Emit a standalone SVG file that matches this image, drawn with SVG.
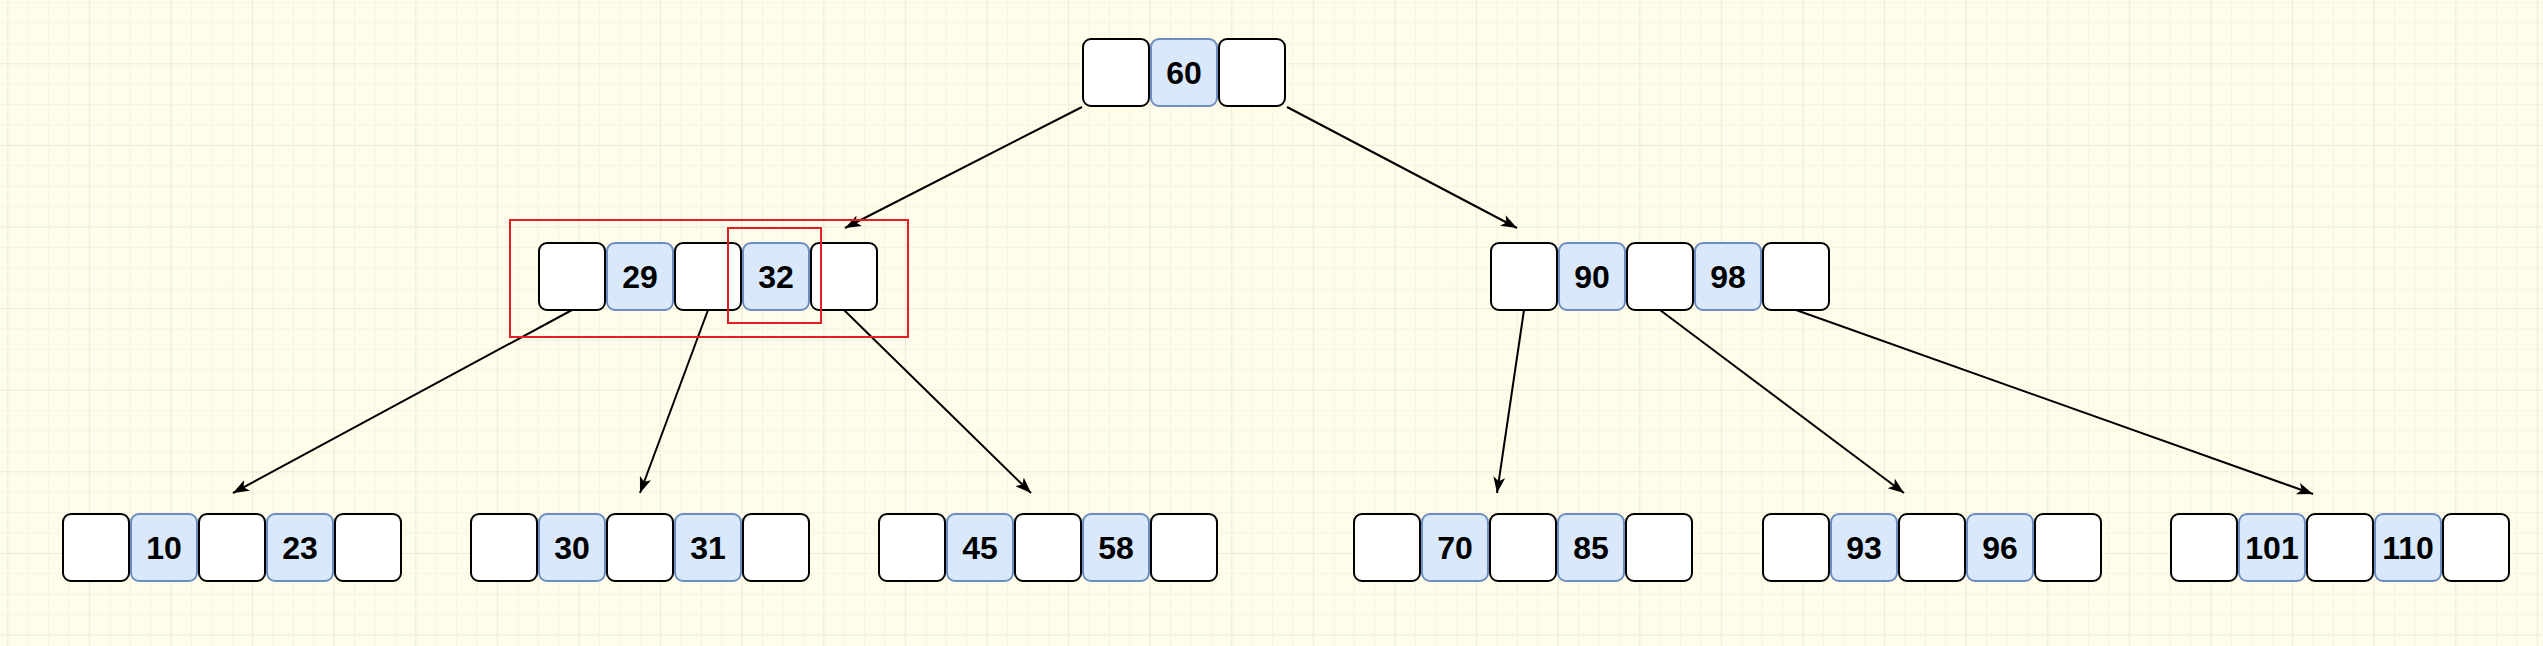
<svg xmlns="http://www.w3.org/2000/svg" width="2543" height="646" viewBox="0 0 2543 646">
<style>
.p{fill:#ffffff;stroke:#000000;stroke-width:2}
.k{fill:#dae8fc;stroke:#6c8ebf;stroke-width:2}
.t{font-family:"Liberation Sans",Arial,Helvetica,sans-serif;font-weight:bold;font-size:32px;fill:#000000;text-anchor:middle}
.e{fill:none;stroke:#000000;stroke-width:2}
.r{fill:none;stroke:#e31e24;stroke-width:2}
</style>
<defs>
<pattern id="minor" patternUnits="userSpaceOnUse" x="7.3" y="63.3" width="20.4" height="20.4">
<path d="M0,0 H20.4 M0,0 V20.4" fill="none" stroke="#f4f1de" stroke-width="1.5"/>
</pattern>
<pattern id="major" patternUnits="userSpaceOnUse" x="7.3" y="63.3" width="81.6" height="81.6">
<path d="M0,0 H81.6 M0,0 V81.6" fill="none" stroke="#e3e1dc" stroke-width="1"/>
</pattern>
<marker id="arr" markerUnits="userSpaceOnUse" markerWidth="18" markerHeight="14" refX="16" refY="6" orient="auto">
<path d="M0,0 L16,6 L0,12 L4,6 Z" fill="#000000"/>
</marker>
</defs>
<rect width="2543" height="646" fill="#fffce9"/>
<rect width="2543" height="646" fill="url(#minor)"/>
<rect width="2543" height="646" fill="url(#major)"/>

<g id="connectors">
<line class="e" x1="1082" y1="107" x2="845" y2="228" marker-end="url(#arr)"/>
<line class="e" x1="1287" y1="107" x2="1517" y2="228" marker-end="url(#arr)"/>
<line class="e" x1="572" y1="310" x2="233" y2="493" marker-end="url(#arr)"/>
<line class="e" x1="708" y1="310" x2="640" y2="493" marker-end="url(#arr)"/>
<line class="e" x1="844" y1="310" x2="1031" y2="493" marker-end="url(#arr)"/>
<line class="e" x1="1524" y1="310" x2="1497" y2="493" marker-end="url(#arr)"/>
<line class="e" x1="1660" y1="310" x2="1904" y2="493" marker-end="url(#arr)"/>
<line class="e" x1="1796" y1="310" x2="2313" y2="494" marker-end="url(#arr)"/>
</g>

<g id="root">
<rect class="p" x="1083" y="39" width="66" height="67" rx="8"/>
<rect class="k" x="1151" y="39" width="66" height="67" rx="8"/>
<rect class="p" x="1219" y="39" width="66" height="67" rx="8"/>
<text class="t" x="1184" y="84">60</text>
</g>

<g id="node-29-32">
<rect class="p" x="539" y="243" width="66" height="67" rx="8"/>
<rect class="k" x="607" y="243" width="66" height="67" rx="8"/>
<rect class="p" x="675" y="243" width="66" height="67" rx="8"/>
<rect class="k" x="743" y="243" width="66" height="67" rx="8"/>
<rect class="p" x="811" y="243" width="66" height="67" rx="8"/>
<text class="t" x="640" y="288">29</text>
<text class="t" x="776" y="288">32</text>
</g>

<g id="node-90-98">
<rect class="p" x="1491" y="243" width="66" height="67" rx="8"/>
<rect class="k" x="1559" y="243" width="66" height="67" rx="8"/>
<rect class="p" x="1627" y="243" width="66" height="67" rx="8"/>
<rect class="k" x="1695" y="243" width="66" height="67" rx="8"/>
<rect class="p" x="1763" y="243" width="66" height="67" rx="8"/>
<text class="t" x="1592" y="288">90</text>
<text class="t" x="1728" y="288">98</text>
</g>

<g id="leaf-10-23">
<rect class="p" x="63" y="514" width="66" height="67" rx="8"/>
<rect class="k" x="131" y="514" width="66" height="67" rx="8"/>
<rect class="p" x="199" y="514" width="66" height="67" rx="8"/>
<rect class="k" x="267" y="514" width="66" height="67" rx="8"/>
<rect class="p" x="335" y="514" width="66" height="67" rx="8"/>
<text class="t" x="164" y="559">10</text>
<text class="t" x="300" y="559">23</text>
</g>

<g id="leaf-30-31">
<rect class="p" x="471" y="514" width="66" height="67" rx="8"/>
<rect class="k" x="539" y="514" width="66" height="67" rx="8"/>
<rect class="p" x="607" y="514" width="66" height="67" rx="8"/>
<rect class="k" x="675" y="514" width="66" height="67" rx="8"/>
<rect class="p" x="743" y="514" width="66" height="67" rx="8"/>
<text class="t" x="572" y="559">30</text>
<text class="t" x="708" y="559">31</text>
</g>

<g id="leaf-45-58">
<rect class="p" x="879" y="514" width="66" height="67" rx="8"/>
<rect class="k" x="947" y="514" width="66" height="67" rx="8"/>
<rect class="p" x="1015" y="514" width="66" height="67" rx="8"/>
<rect class="k" x="1083" y="514" width="66" height="67" rx="8"/>
<rect class="p" x="1151" y="514" width="66" height="67" rx="8"/>
<text class="t" x="980" y="559">45</text>
<text class="t" x="1116" y="559">58</text>
</g>

<g id="leaf-70-85">
<rect class="p" x="1354" y="514" width="66" height="67" rx="8"/>
<rect class="k" x="1422" y="514" width="66" height="67" rx="8"/>
<rect class="p" x="1490" y="514" width="66" height="67" rx="8"/>
<rect class="k" x="1558" y="514" width="66" height="67" rx="8"/>
<rect class="p" x="1626" y="514" width="66" height="67" rx="8"/>
<text class="t" x="1455" y="559">70</text>
<text class="t" x="1591" y="559">85</text>
</g>

<g id="leaf-93-96">
<rect class="p" x="1763" y="514" width="66" height="67" rx="8"/>
<rect class="k" x="1831" y="514" width="66" height="67" rx="8"/>
<rect class="p" x="1899" y="514" width="66" height="67" rx="8"/>
<rect class="k" x="1967" y="514" width="66" height="67" rx="8"/>
<rect class="p" x="2035" y="514" width="66" height="67" rx="8"/>
<text class="t" x="1864" y="559">93</text>
<text class="t" x="2000" y="559">96</text>
</g>

<g id="leaf-101-110">
<rect class="p" x="2171" y="514" width="66" height="67" rx="8"/>
<rect class="k" x="2239" y="514" width="66" height="67" rx="8"/>
<rect class="p" x="2307" y="514" width="66" height="67" rx="8"/>
<rect class="k" x="2375" y="514" width="66" height="67" rx="8"/>
<rect class="p" x="2443" y="514" width="66" height="67" rx="8"/>
<text class="t" x="2272" y="559">101</text>
<text class="t" x="2408" y="559">110</text>
</g>

<g id="highlights">
<rect class="r" x="510" y="220" width="398" height="117"/>
<rect class="r" x="728" y="228" width="93" height="95"/>
</g>
</svg>
